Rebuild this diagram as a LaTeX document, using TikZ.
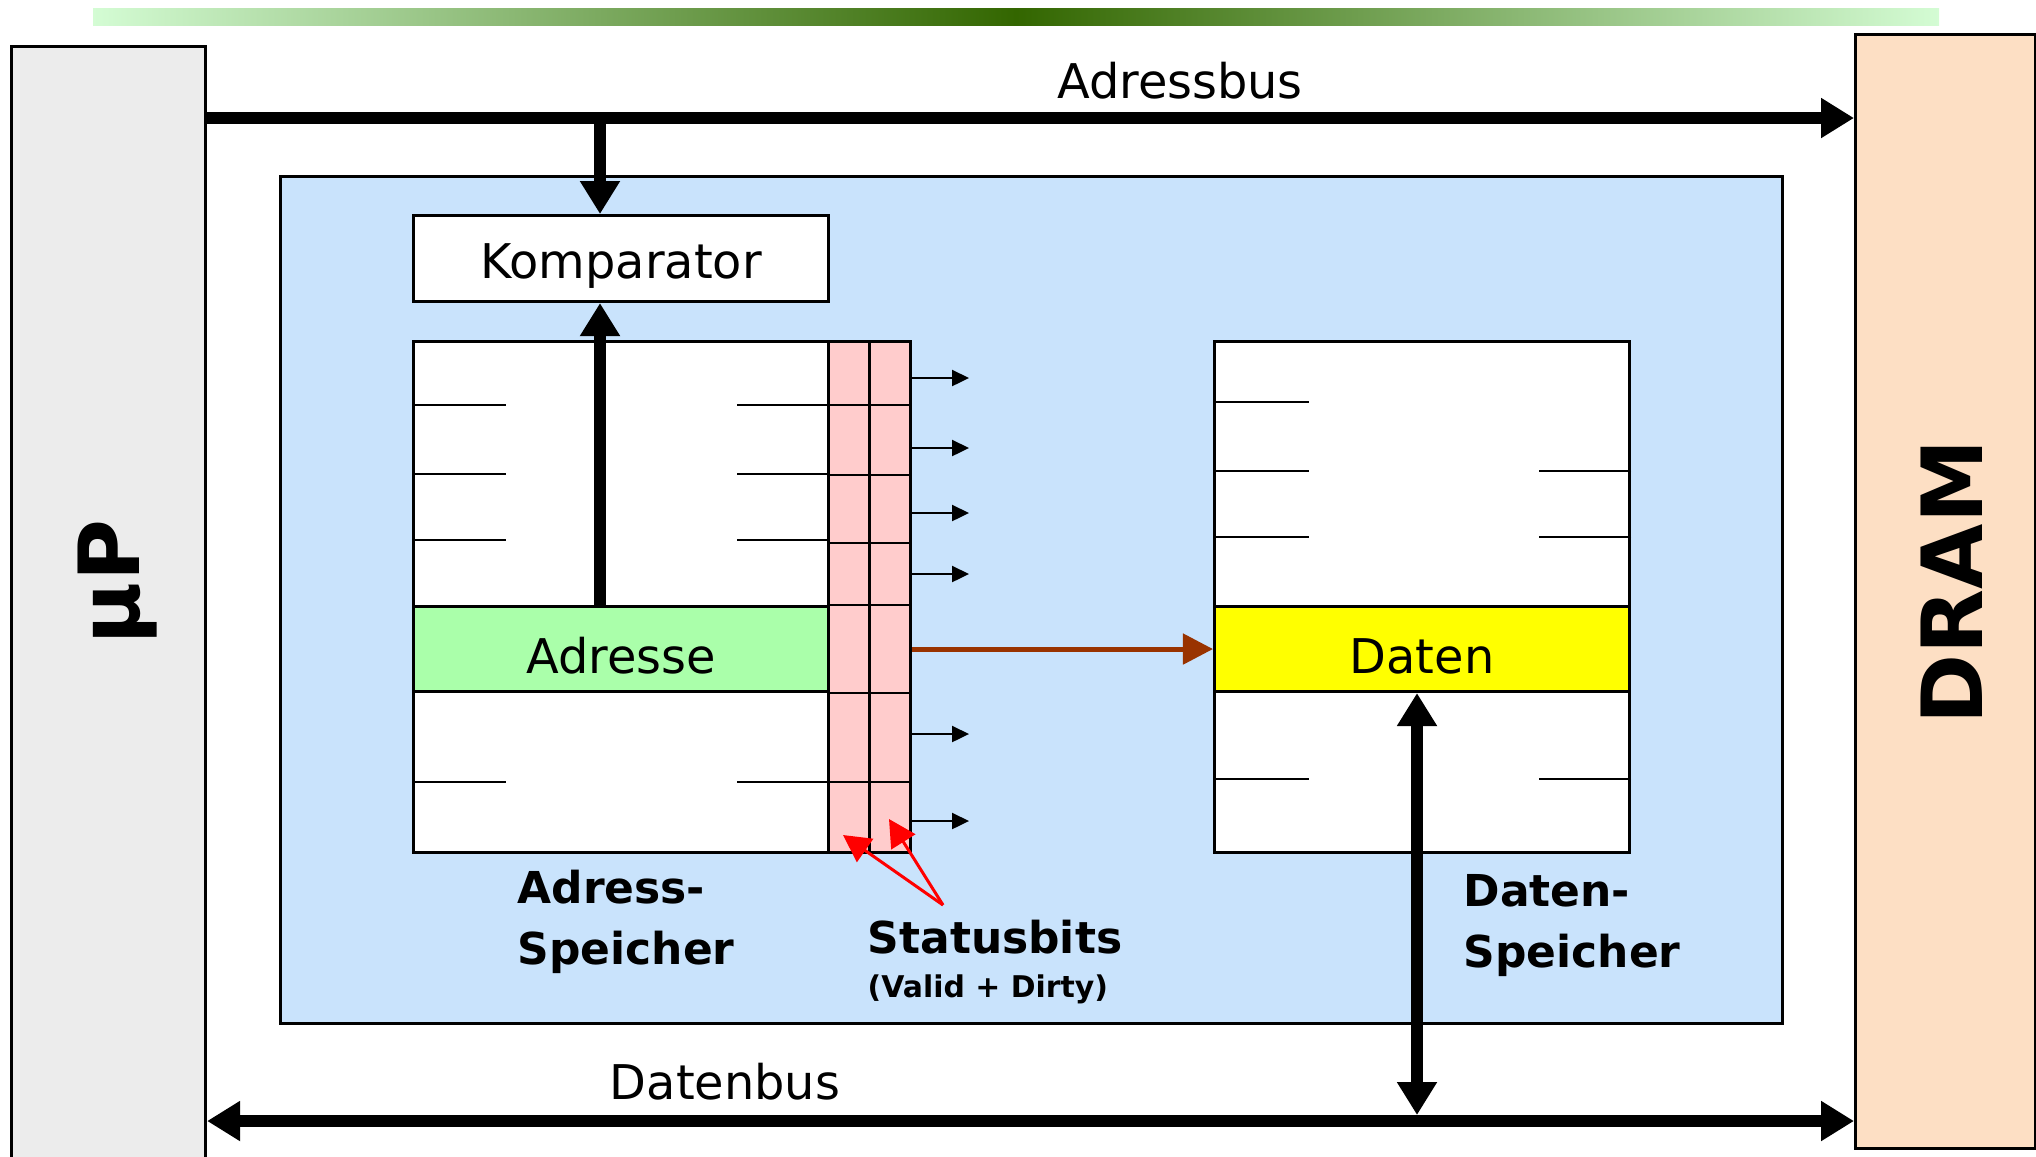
\documentclass[tikz,border=0pt]{standalone}
\usepackage{fontspec}
\setmainfont{DejaVu Sans}
\usetikzlibrary{arrows.meta}
\definecolor{mupgrey}{HTML}{ECECEC}
\definecolor{dramorange}{HTML}{FDDFC4}
\definecolor{cacheblue}{HTML}{C9E3FC}
\definecolor{statpink}{HTML}{FFCCCC}
\definecolor{adrgreen}{HTML}{AAFFAA}
\definecolor{datyellow}{HTML}{FFFF00}
\definecolor{barlight}{HTML}{D4FCD4}
\definecolor{bardark}{HTML}{336600}
\definecolor{hitbrown}{HTML}{993300}
\begin{document}
\begin{tikzpicture}[x=0.01cm, y=-0.01cm,
    box/.style={draw, line width=0.85pt, inner sep=0pt, anchor=north west},
    row/.style={box, minimum width=4.15cm, minimum height=0.85cm, text height=14pt, text depth=0pt, font=\fontsize{13.6}{16}\selectfont},
    bus/.style={line width=3.4pt, >={Triangle[length=0.33cm, width=0.38cm]}},
    hit/.style={hitbrown, line width=1.4pt, >={Triangle[length=0.3cm, width=0.3cm]}},
    flag/.style={line width=0.6pt, >={Triangle[length=0.17cm, width=0.16cm]}},
    pointer/.style={red, line width=0.85pt, >={Triangle[length=0.27cm, width=0.28cm]}},
    cell/.style={line width=0.8pt},
    tick/.style={line width=0.7pt},
    lbl/.style={font=\fontsize{13.6}{16}\selectfont, inner sep=0pt, anchor=base},
    tag/.style={font=\bfseries\fontsize{12.5}{17.35}\selectfont, align=left, inner sep=0pt, anchor=north west},
    big/.style={font=\bfseries\fontsize{24}{28}\selectfont, inner sep=0pt, anchor=base, rotate=90}
]
    \useasboundingbox (0,0) rectangle (2036,1156);
    \clip (0,0) rectangle (2036,1156);

    \shade[left color=barlight, right color=barlight, middle color=bardark] (93,8) rectangle (1939,25);

    \node[box, fill=mupgrey, minimum width=1.94cm, minimum height=11.4cm] (mup) at (10,45) {};
    \node[box, fill=dramorange, minimum width=1.8cm, minimum height=11.13cm] (dram) at (1854,33) {};
    \node[big] (muplbl) at (139,582) {µP};
    \node[big] (dramlbl) at (1982,582) {DRAM};

    \node[box, fill=cacheblue, minimum width=15.01cm, minimum height=8.46cm] (cache) at (279,175) {};
    \node[box, fill=white, minimum width=4.15cm, minimum height=0.86cm, text height=11.4pt, text depth=0pt, font=\fontsize{13.6}{16}\selectfont] (komp) at (412,214) {Komparator};

    % Adress- und Datenspeicher mit Statusbits
    \node[box, fill=white, minimum width=4.15cm, minimum height=5.11cm] (adrmem) at (412,340) {};
    \node[row, fill=adrgreen] (adresse) at (412,605) {Adresse};
    \node[box, fill=statpink, minimum width=0.82cm, minimum height=5.11cm] (stat) at (827,340) {};
    \draw[cell] (stat.north) -- (stat.south);
    \foreach \y in {405,475,543,782}
        \draw[cell] (stat.west |- 0,\y) -- (stat.east |- 0,\y);
    \draw[cell] (adresse.north east) -- (stat.east |- adresse.north);
    \draw[cell] (adresse.south east) -- (stat.east |- adresse.south);
    \foreach \y in {405,474,540,782} {
        \draw[tick] (adrmem.west |- 0,\y) -- +(94,0);
        \draw[tick] (adrmem.east |- 0,\y) -- +(-93,0);
    }
    \foreach \y in {378,448,513,574,734,821}
        \draw[flag,->] (stat.east |- 0,\y) -- +(57,0);

    \node[box, fill=white, minimum width=4.15cm, minimum height=5.11cm] (datmem) at (1213,340) {};
    \node[row, fill=datyellow] (daten) at (1213,605) {Daten};
    \foreach \y in {402,471,537,779}
        \draw[tick] (datmem.west |- 0,\y) -- +(96,0);
    \foreach \y in {471,537,779}
        \draw[tick] (datmem.east |- 0,\y) -- +(-92,0);

    % Busse
    \coordinate (ktap) at (600,118);
    \coordinate (dtap) at (1417,1121);
    \draw[bus,->] (mup.east |- ktap) -- (dram.west |- ktap);
    \draw[bus,->] (ktap) -- (ktap |- komp.north);
    \draw[bus,->] (adresse.north -| ktap) -- (komp.south -| ktap);
    \draw[bus,<->] (mup.east |- dtap) -- (dram.west |- dtap);
    \draw[bus,<->, shorten >=0.06cm] (daten.south -| dtap) -- (dtap);
    \draw[hit,->] (stat.east |- daten) -- (daten.west);

    \coordinate (sbfoot) at (943,905);
    \coordinate (validbit) at (843,835);
    \coordinate (dirtybit) at (889,819);
    \draw[pointer,->] (sbfoot) -- (validbit);
    \draw[pointer,->] (sbfoot) -- (dirtybit);

    \node[lbl] (abuslbl) at (1180,98) {Adressbus};
    \node[lbl] (dbuslbl) at (725,1099) {Datenbus};
    \node[tag] (adrlbl) at (517,869) {Adress-\\Speicher};
    \node[tag] (datlbl) at (1463,874) {Daten-\\Speicher};
    \node[tag, anchor=base west] (statlbl) at (867,953) {Statusbits};
    \node[font=\bfseries\fontsize{8.5}{10}\selectfont, inner sep=0pt, anchor=base west] (statsub) at (867,997) {(Valid + Dirty)};
\end{tikzpicture}
\end{document}
